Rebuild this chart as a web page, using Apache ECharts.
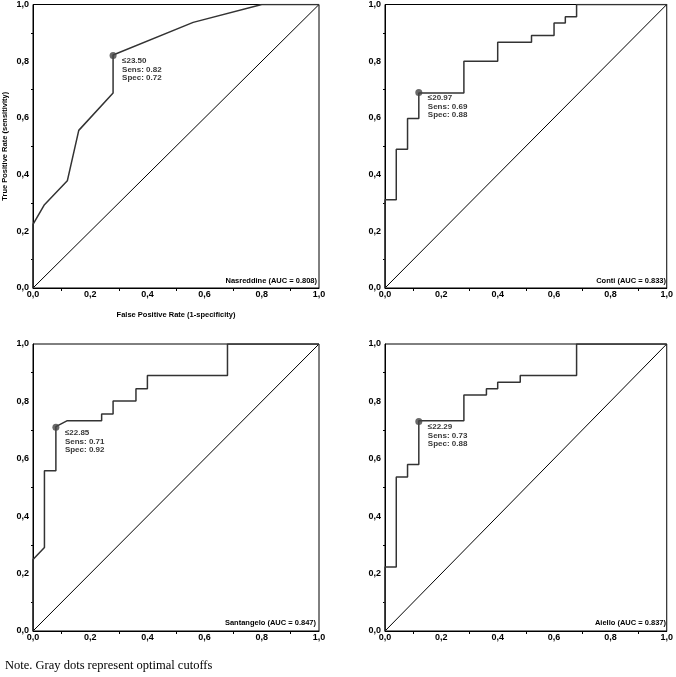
<!DOCTYPE html>
<html>
<head>
<meta charset="utf-8">
<script src="https://cdn.jsdelivr.net/npm/echarts@6/dist/echarts.min.js"></script>
<style>
html,body{margin:0;padding:0;background:#fff;}
#c{width:676px;height:677px;}
</style>
</head>
<body>
<div id="c"></div>
<script>
// ---- data ----
const panelNames = ['Nasreddine', 'Conti', 'Santangelo', 'Aiello'];
const aucValues = ['0.808', '0.833', '0.847', '0.837'];
const cutoffLabels = ['≤23.50', '≤20.97', '≤22.85', '≤22.29'];
const cutoffSens = [0.82, 0.69, 0.71, 0.73];
const cutoffSpec = [0.72, 0.88, 0.92, 0.88];

const nasreddineFPR = [0, 0, 0.04, 0.12, 0.16, 0.28, 0.28, 0.56, 0.80, 1.0];
const nasreddineTPR = [0, 0.224, 0.294, 0.378, 0.556, 0.688, 0.822, 0.937, 1.0, 1.0];

const contiFPR = [0, 0, 0.04, 0.04, 0.08, 0.08, 0.12, 0.12, 0.28, 0.28, 0.40, 0.40, 0.52, 0.52, 0.60, 0.60, 0.64, 0.64, 0.68, 0.68, 1.0];
const contiTPR = [0, 0.311, 0.311, 0.489, 0.489, 0.598, 0.598, 0.688, 0.688, 0.800, 0.800, 0.867, 0.867, 0.891, 0.891, 0.935, 0.935, 0.957, 0.957, 1.0, 1.0];

const santangeloFPR = [0, 0, 0.04, 0.04, 0.08, 0.08, 0.12, 0.24, 0.24, 0.28, 0.28, 0.36, 0.36, 0.40, 0.40, 0.68, 0.68, 1.0];
const santangeloTPR = [0, 0.249, 0.291, 0.558, 0.558, 0.712, 0.733, 0.733, 0.756, 0.756, 0.801, 0.801, 0.844, 0.844, 0.890, 0.890, 1.0, 1.0];

const aielloFPR = [0, 0, 0.04, 0.04, 0.08, 0.08, 0.12, 0.12, 0.28, 0.28, 0.36, 0.36, 0.40, 0.40, 0.48, 0.48, 0.68, 0.68, 1.0];
const aielloTPR = [0, 0.223, 0.223, 0.537, 0.537, 0.580, 0.580, 0.733, 0.733, 0.822, 0.822, 0.844, 0.844, 0.867, 0.867, 0.890, 0.890, 1.0, 1.0];

const diagFPR = [0, 1];
const diagTPR = [0, 1];

const xTitle = 'False Positive Rate (1-specificity)';
const yTitle = 'True Positive Rate (sensitivity)';
const noteText = 'Note. Gray dots represent optimal cutoffs';

// ---- build ----
const curves = [
  [nasreddineFPR, nasreddineTPR],
  [contiFPR, contiTPR],
  [santangeloFPR, santangeloTPR],
  [aielloFPR, aielloTPR]
];
const zip = (a, b) => a.map((v, i) => [v, b[i]]);
const fmt = v => v.toFixed(1).replace('.', ',');

const grids = [
  {left: 33, top: 3, width: 286, height: 285},
  {left: 385, top: 3, width: 285, height: 285},
  {left: 33, top: 344, width: 286, height: 287},
  {left: 385, top: 344, width: 286, height: 287}
];
const aucPos = [
  {right: 359, top: 277},
  {right: 10, top: 277},
  {right: 360, top: 619},
  {right: 10, top: 619}
];

const FONT = '"Liberation Sans", Arial, sans-serif';
const xAxes = [], yAxes = [], series = [], titles = [];

grids.forEach((g, i) => {
  g.show = true;
  g.borderColor = '#000';
  g.borderWidth = 1;
  g.backgroundColor = '#fff';
  xAxes.push({
    type: 'value', gridIndex: i, min: 0, max: 1, interval: 0.2,
    axisLine: {show: true, onZero: false, lineStyle: {color: '#000', width: 1}},
    axisTick: {show: false},
    minorTick: {show: true, splitNumber: 2, length: 3, lineStyle: {color: '#000', width: 1}},
    splitLine: {show: false},
    axisLabel: {margin: 2, color: '#000', fontFamily: FONT, fontWeight: 'bold', fontSize: 9, formatter: fmt},
    name: i === 0 ? xTitle : '',
    nameLocation: 'middle', nameGap: 23,
    nameTextStyle: {color: '#000', fontFamily: FONT, fontWeight: 'bold', fontSize: 7.5}
  });
  yAxes.push({
    type: 'value', gridIndex: i, min: 0, max: 1, interval: 0.2,
    axisLine: {show: true, onZero: false, lineStyle: {color: '#000', width: 1}},
    axisTick: {show: false},
    minorTick: {show: true, splitNumber: 2, length: 2, lineStyle: {color: '#000', width: 1}},
    splitLine: {show: false},
    axisLabel: {margin: 4, color: '#000', fontFamily: FONT, fontWeight: 'bold', fontSize: 9, formatter: fmt},
    name: i === 0 ? yTitle : '',
    nameLocation: 'middle', nameGap: 24,
    nameTextStyle: {color: '#000', fontFamily: FONT, fontWeight: 'bold', fontSize: 7.5}
  });
  series.push({
    type: 'line', xAxisIndex: i, yAxisIndex: i, data: zip(diagFPR, diagTPR),
    symbol: 'none', silent: true, lineStyle: {color: '#000', width: 1}, z: 2
  });
  series.push({
    type: 'line', xAxisIndex: i, yAxisIndex: i, data: zip(curves[i][0], curves[i][1]),
    symbol: 'none', silent: true, lineStyle: {color: '#333', width: 1.5}, z: 3
  });
  series.push({
    type: 'scatter', xAxisIndex: i, yAxisIndex: i,
    data: [[+(1 - cutoffSpec[i]).toFixed(2), cutoffSens[i]]],
    symbolSize: 7, itemStyle: {color: '#444'}, z: 4,
    label: {
      show: true, position: [12.5, 5], align: 'left', verticalAlign: 'top',
      color: '#000', fontFamily: FONT, fontWeight: 'bold', fontSize: 8, lineHeight: 8.5,
      formatter: () => cutoffLabels[i] + '\nSens: ' + cutoffSens[i].toFixed(2) + '\nSpec: ' + cutoffSpec[i].toFixed(2)
    }
  });
  titles.push(Object.assign({
    text: panelNames[i] + ' (AUC = ' + aucValues[i] + ')',
    padding: 0,
    textStyle: {color: '#000', fontFamily: FONT, fontWeight: 'bold', fontSize: 7.5}
  }, aucPos[i]));
});

const chart = echarts.init(document.getElementById('c'), null, {renderer: 'canvas'});
chart.setOption({
  backgroundColor: '#fff',
  animation: false,
  title: titles,
  grid: grids,
  xAxis: xAxes,
  yAxis: yAxes,
  series: series,
  graphic: [{
    type: 'text', left: 5, top: 659,
    style: {text: noteText, fill: '#000', font: '12.5px "Liberation Serif", "Times New Roman", serif'}
  }]
});
</script>
</body>
</html>
